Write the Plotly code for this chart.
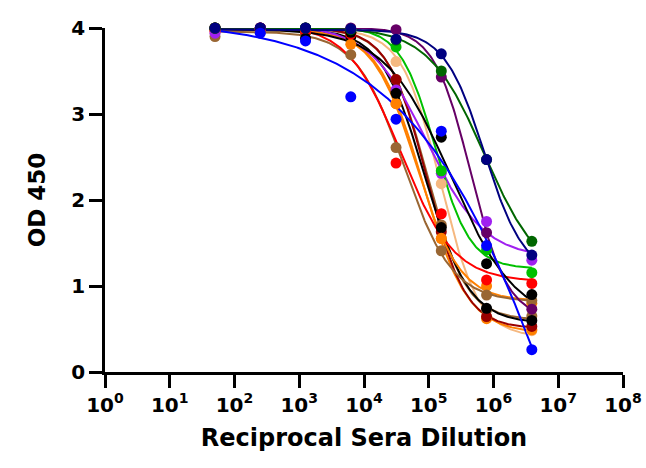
import numpy as np
import plotly.graph_objects as go

# Reciprocal sera dilutions (x) and OD 450 readings per serum sample
dilutions = [50, 250, 1250, 6250, 31250, 156250, 781250, 3906250]

navy     = [4.00, 4.00, 4.00, 3.99, 3.87, 3.70, 2.47, 1.36]
dkgreen  = [4.00, 4.02, 4.00, 3.98, 3.86, 3.50, 2.47, 1.52]
dkpurple = [4.00, 4.00, 4.00, 4.00, 3.98, 3.43, 1.62, 0.73]
purple   = [3.94, 4.00, 4.00, 4.02, 3.28, 2.31, 1.75, 1.30]
green    = [4.00, 4.02, 4.00, 3.98, 3.78, 2.34, 1.42, 1.155]
blue     = [4.01, 3.94, 3.85, 3.20, 2.94, 2.80, 1.47, 0.26]
black1   = [4.00, 4.02, 3.88, 3.95, 3.24, 2.73, 1.26, 0.90]
black2   = [3.99, 4.00, 3.95, 3.90, 3.26, 1.68, 0.74, 0.60]
red      = [3.96, 3.98, 3.96, 3.93, 2.43, 1.84, 1.07, 1.03]
orange1  = [4.00, 3.99, 3.95, 3.81, 3.12, 1.555, 1.00, 0.80]
orange2  = [3.98, 3.98, 3.96, 3.90, 3.12, 1.55, 0.62, 0.49]
tan      = [4.00, 4.00, 3.97, 3.98, 3.61, 2.19, 0.64, 0.48]
brown1   = [3.90, 3.95, 3.95, 3.69, 2.61, 1.41, 0.895, 0.83]
brown2   = [3.98, 4.00, 3.98, 3.95, 3.40, 1.71, 0.72, 0.65]
dkred    = [4.00, 4.00, 3.98, 3.95, 3.40, 1.63, 0.645, 0.53]

series = [
    ("tan", tan, "#F5B880"),
    ("orange2", orange2, "#FF8000"),
    ("brown2", brown2, "#996633"),
    ("dkred", dkred, "#990000"),
    ("black2", black2, "#000000"),
    ("orange1", orange1, "#FF8000"),
    ("brown1", brown1, "#996633"),
    ("red", red, "#FF0000"),
    ("purple", purple, "#A020F0"),
    ("green", green, "#00C000"),
    ("black1", black1, "#000000"),
    ("dkpurple", dkpurple, "#660066"),
    ("dkgreen", dkgreen, "#006600"),
    ("navy", navy, "#000080"),
    ("blue", blue, "#0000FF"),
]

x_tickvals = [1, 10, 100, 1000, 1e4, 1e5, 1e6, 1e7, 1e8]
x_ticktext = ["10<sup>%d</sup>" % i for i in range(9)]
y_tickvals = [0, 1, 2, 3, 4]


def fit_4pl(xv, yv):
    """Least-squares four-parameter logistic fit (grid over EC50/Hill, linear in top/bottom)."""
    lx = np.log10(np.asarray(xv, float))
    y = np.asarray(yv, float)
    le = np.arange(2.5, 7.5, 0.01)[:, None, None]
    hh = np.arange(0.3, 4.0, 0.02)[None, :, None]
    f = 1.0 / (1.0 + 10 ** (hh * (lx[None, None, :] - le)))
    g = 1.0 - f
    s11 = (g * g).sum(-1); s12 = (g * f).sum(-1); s22 = (f * f).sum(-1)
    r1 = (g * y).sum(-1); r2 = (f * y).sum(-1)
    det = s11 * s22 - s12 ** 2
    det = np.where(np.abs(det) < 1e-12, np.nan, det)
    b = (s22 * r1 - s12 * r2) / det
    t = (s11 * r2 - s12 * r1) / det
    res = ((y - b[..., None] * g - t[..., None] * f) ** 2).sum(-1)
    i, j = np.unravel_index(np.nanargmin(res), res.shape)
    return t[i, j], b[i, j], le[i, 0, 0], hh[0, j, 0]


fig = go.Figure()
xc = np.logspace(np.log10(dilutions[0]), np.log10(dilutions[-1]), 300)
for name, vals, col in series:
    top, bot, le, h = fit_4pl(dilutions, vals)
    yc = bot + (top - bot) / (1 + 10 ** (h * (np.log10(xc) - le)))
    fig.add_trace(go.Scatter(x=xc, y=yc, mode="lines", line=dict(color=col, width=2),
                             showlegend=False, cliponaxis=False, hoverinfo="skip"))
for name, vals, col in series:
    fig.add_trace(go.Scatter(x=dilutions, y=vals, mode="markers",
                             marker=dict(color=col, size=11, line=dict(width=0)),
                             showlegend=False, cliponaxis=False, name=name))

font_family = "DejaVu Sans, sans-serif"
axis_common = dict(showline=True, linecolor="black", linewidth=2.5, ticks="outside",
                   ticklen=13, tickwidth=2.5, tickcolor="black", showgrid=False,
                   zeroline=False, mirror=False, automargin=False)
fig.update_layout(
    width=646, height=468,
    margin=dict(l=105, r=23, t=28, b=96),
    paper_bgcolor="white", plot_bgcolor="white",
    font=dict(family=font_family, color="black"),
    xaxis=dict(type="log", range=[0, 8], tickvals=x_tickvals, ticktext=x_ticktext,
               tickfont=dict(size=20, weight="bold", family=font_family),
               title=dict(text="Reciprocal Sera Dilution", standoff=14,
                          font=dict(size=24, weight="bold", family=font_family)),
               **axis_common),
    yaxis=dict(range=[0, 4], tickvals=y_tickvals,
               tickfont=dict(size=20, weight="bold", family=font_family),
               title=dict(text="OD 450", standoff=20,
                          font=dict(size=23, weight="bold", family=font_family)),
               **axis_common),
)
fig.write_html("out.html")
